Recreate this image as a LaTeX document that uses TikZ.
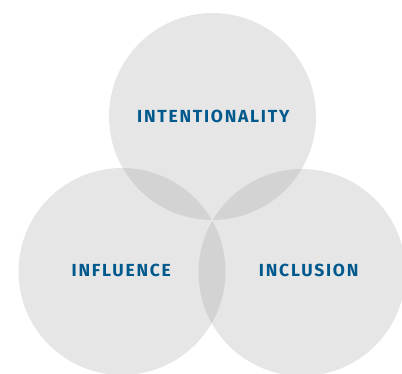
\documentclass[tikz,border=0pt]{standalone}
\usepackage{fontspec}
\setsansfont{Fira Sans}[LetterSpace=10]
\definecolor{circlegray}{RGB}{151,151,151}
\definecolor{labelblue}{RGB}{0,89,140}
\tikzset{
  venn/.style={circle, fill=circlegray, fill opacity=0.24, minimum size=207pt, inner sep=0pt},
  venntext/.style={text=labelblue, font=\sffamily\bfseries\fontsize{17.5}{21}\selectfont}
}
\begin{document}
\begin{tikzpicture}[x=1pt,y=-1pt]
       \useasboundingbox (0,0) rectangle (402,373);
       \clip (0,0) rectangle (402,373);
       \node[venn] (intent) at (212.5,116.5) {};
       \node[venn] (influ) at (122,271.5) {};
       \node[venn] (inclu) at (302,272.5) {};
       \node[venntext] (intentlbl) at (213.3,116.5) {INTENTIONALITY};
       \node[venntext] (influlbl) at (121.3,270.7) {INFLUENCE};
       \node[venntext] (inclulbl) at (308.7,270.7) {INCLUSION};
    \end{tikzpicture}
\end{document}
